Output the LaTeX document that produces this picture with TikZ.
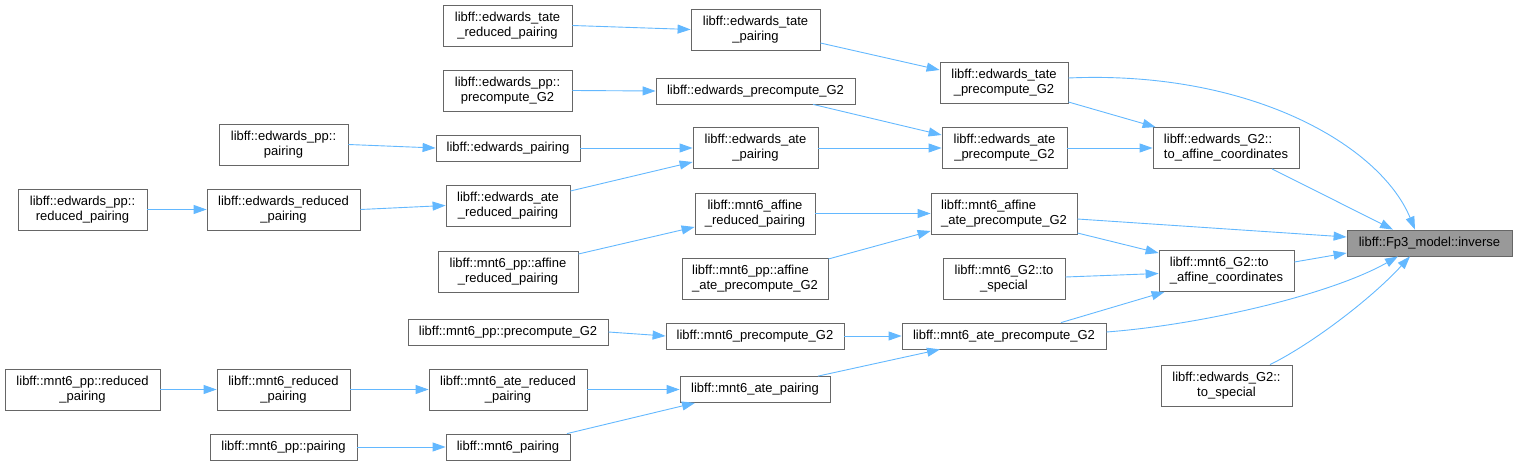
\documentclass[tikz,border=0pt]{standalone}
\usepackage{fontspec}
\setmainfont{Liberation Sans}
\usetikzlibrary{arrows.meta}
\definecolor{edgeblue}{HTML}{63B8FF}
\definecolor{boxline}{HTML}{666666}
\definecolor{hifill}{HTML}{999999}
\begin{document}
\begin{tikzpicture}[x=1pt,y=-1pt,
  fn/.style={draw=boxline, line width=0.8pt, fill=white, inner sep=0pt, align=center,
    font=\fontsize{13}{15}\selectfont, text=black},
  hl/.style={fn, fill=hifill},
  call/.style={draw=edgeblue, line width=0.9pt, -{Triangle[length=13pt,width=9pt]}}]
\useasboundingbox (0,0) rectangle (1517,465);

% column 1
\node[fn, minimum width=129pt, minimum height=41pt] (E) at (82.5,209.5) {libff::edwards\_pp::\\reduced\_pairing};
\node[fn, minimum width=155pt, minimum height=41pt] (J) at (82.5,389.5) {libff::mnt6\_pp::reduced\\\_pairing};
% column 2
\node[fn, minimum width=129pt, minimum height=41pt] (C) at (283.5,144.5) {libff::edwards\_pp::\\pairing};
\node[fn, minimum width=153pt, minimum height=41pt] (F) at (283.5,209.5) {libff::edwards\_reduced\\\_pairing};
\node[fn, minimum width=133pt, minimum height=41pt] (K) at (283.5,389.5) {libff::mnt6\_reduced\\\_pairing};
\node[fn, minimum width=147pt, minimum height=26pt] (M) at (283.5,447) {libff::mnt6\_pp::pairing};
% column 3
\node[fn, minimum width=129pt, minimum height=41pt] (A) at (507.5,25.5) {libff::edwards\_tate\\\_reduced\_pairing};
\node[fn, minimum width=129pt, minimum height=41pt] (B) at (507.5,90.5) {libff::edwards\_pp::\\precompute\_G2};
\node[fn, minimum width=144pt, minimum height=26pt] (D) at (508,148) {libff::edwards\_pairing};
\node[fn, minimum width=124pt, minimum height=41pt] (G) at (508,205.5) {libff::edwards\_ate\\\_reduced\_pairing};
\node[fn, minimum width=140pt, minimum height=41pt] (H) at (508,271.5) {libff::mnt6\_pp::affine\\\_reduced\_pairing};
\node[fn, minimum width=200pt, minimum height=26pt] (I) at (508,332) {libff::mnt6\_pp::precompute\_G2};
\node[fn, minimum width=158pt, minimum height=41pt] (L) at (508,389.5) {libff::mnt6\_ate\_reduced\\\_pairing};
\node[fn, minimum width=124pt, minimum height=26pt] (N) at (508,447) {libff::mnt6\_pairing};
% column 4
\node[fn, minimum width=129pt, minimum height=41pt] (O) at (755.5,29.5) {libff::edwards\_tate\\\_pairing};
\node[fn, minimum width=199pt, minimum height=26pt] (P) at (755.5,91) {libff::edwards\_precompute\_G2};
\node[fn, minimum width=125pt, minimum height=41pt] (Q) at (755.5,148) {libff::edwards\_ate\\\_pairing};
\node[fn, minimum width=120pt, minimum height=41pt] (R) at (755,213.5) {libff::mnt6\_affine\\\_reduced\_pairing};
\node[fn, align=left, minimum width=146pt, minimum height=41pt] (S) at (755,278.5) {libff::mnt6\_pp::affine\\\_ate\_precompute\_G2};
\node[fn, minimum width=178pt, minimum height=26pt] (T) at (755,336) {libff::mnt6\_precompute\_G2};
\node[fn, minimum width=150pt, minimum height=26pt] (U) at (755,389.5) {libff::mnt6\_ate\_pairing};
% column 5
\node[fn, minimum width=128pt, minimum height=41pt] (V) at (1004,82.5) {libff::edwards\_tate\\\_precompute\_G2};
\node[fn, minimum width=125pt, minimum height=41pt] (W) at (1004.5,148) {libff::edwards\_ate\\\_precompute\_G2};
\node[fn, align=left, minimum width=146pt, minimum height=41pt] (X) at (1004,213.5) {libff::mnt6\_affine\\\_ate\_precompute\_G2};
\node[fn, minimum width=122pt, minimum height=41pt] (Y) at (1004,278.5) {libff::mnt6\_G2::to\\\_special};
\node[fn, minimum width=204pt, minimum height=26pt] (Z) at (1004,336) {libff::mnt6\_ate\_precompute\_G2};
% column 6
\node[fn, align=left, minimum width=146pt, minimum height=41pt] (AA) at (1226,148) {libff::edwards\_G2::\\to\_affine\_coordinates};
\node[fn, align=left, minimum width=135pt, minimum height=41pt] (AB) at (1226.5,271) {libff::mnt6\_G2::to\\\_affine\_coordinates};
\node[fn, minimum width=131pt, minimum height=41pt] (AC) at (1226.5,385.5) {libff::edwards\_G2::\\to\_special};
% column 7
\node[hl, minimum width=165pt, minimum height=26pt] (AD) at (1429.5,243) {libff::Fp3\_model::inverse};

% edges
\draw[call] (A.east) -- (O.west);
\draw[call] ([yshift=-13.5pt]O.east) -- ([yshift=12.5pt]V.west);
\draw[call] (B.east) -- (P.west);
\draw[call] ([xshift=57.5pt]P.south) -- ([yshift=13pt]W.west);
\draw[call] (C.east) -- (D.west);
\draw[call] (D.east) -- (Q.west);
\draw[call] ([yshift=14.5pt]G.east) -- ([yshift=-14pt]Q.west);
\draw[call] (Q.east) -- (W.west);
\draw[call] (E.east) -- (F.west);
\draw[call] (F.east) -- (G.west);
\draw[call] ([yshift=4.5pt]V.east) .. controls (1250,70) and (1380,145) .. ([xshift=-14.5pt]AD.north);
\draw[call] ([yshift=-19.5pt]V.east) -- ([xshift=3pt]AA.north west);
\draw[call] (W.east) -- (AA.west);
\draw[call] ([xshift=46pt]AA.south) -- ([xshift=-36.5pt]AD.north);
\draw[call] (R.east) -- (X.west);
\draw[call] ([yshift=17.5pt]H.east) -- ([yshift=-13.5pt]R.west);
\draw[call] ([yshift=19.5pt]S.east) -- ([yshift=-17.5pt]X.west);
\draw[call] ([yshift=-5.5pt]X.east) -- ([yshift=6pt]AD.west);
\draw[call] ([yshift=-19.5pt]X.east) -- ([yshift=18pt]AB.west);
\draw[call] ([yshift=1.5pt]Y.east) -- ([yshift=-2.5pt]AB.west);
\draw[call] ([xshift=57pt]Z.north) -- ([xshift=6pt]AB.south west);
\draw[call] ([yshift=4pt]Z.east) .. controls (1200,325) and (1330,295) .. ([xshift=-31.5pt]AD.south);
\draw[call] ([yshift=9pt]AB.east) -- ([yshift=-10pt]AD.west);
\draw[call] ([xshift=43.5pt]AC.north) .. controls (1310,345) and (1370,300) .. ([xshift=-19.5pt]AD.south);
\draw[call] (I.east) -- (T.west);
\draw[call] (T.east) -- (Z.west);
\draw[call] ([xshift=63pt]U.north) -- ([xshift=-64pt]Z.south);
\draw[call] (J.east) -- (K.west);
\draw[call] (K.east) -- (L.west);
\draw[call] (L.east) -- (U.west);
\draw[call] (M.east) -- (N.west);
\draw[call] ([xshift=59pt]N.north) -- ([xshift=-60pt]U.south);
\end{tikzpicture}
\end{document}
